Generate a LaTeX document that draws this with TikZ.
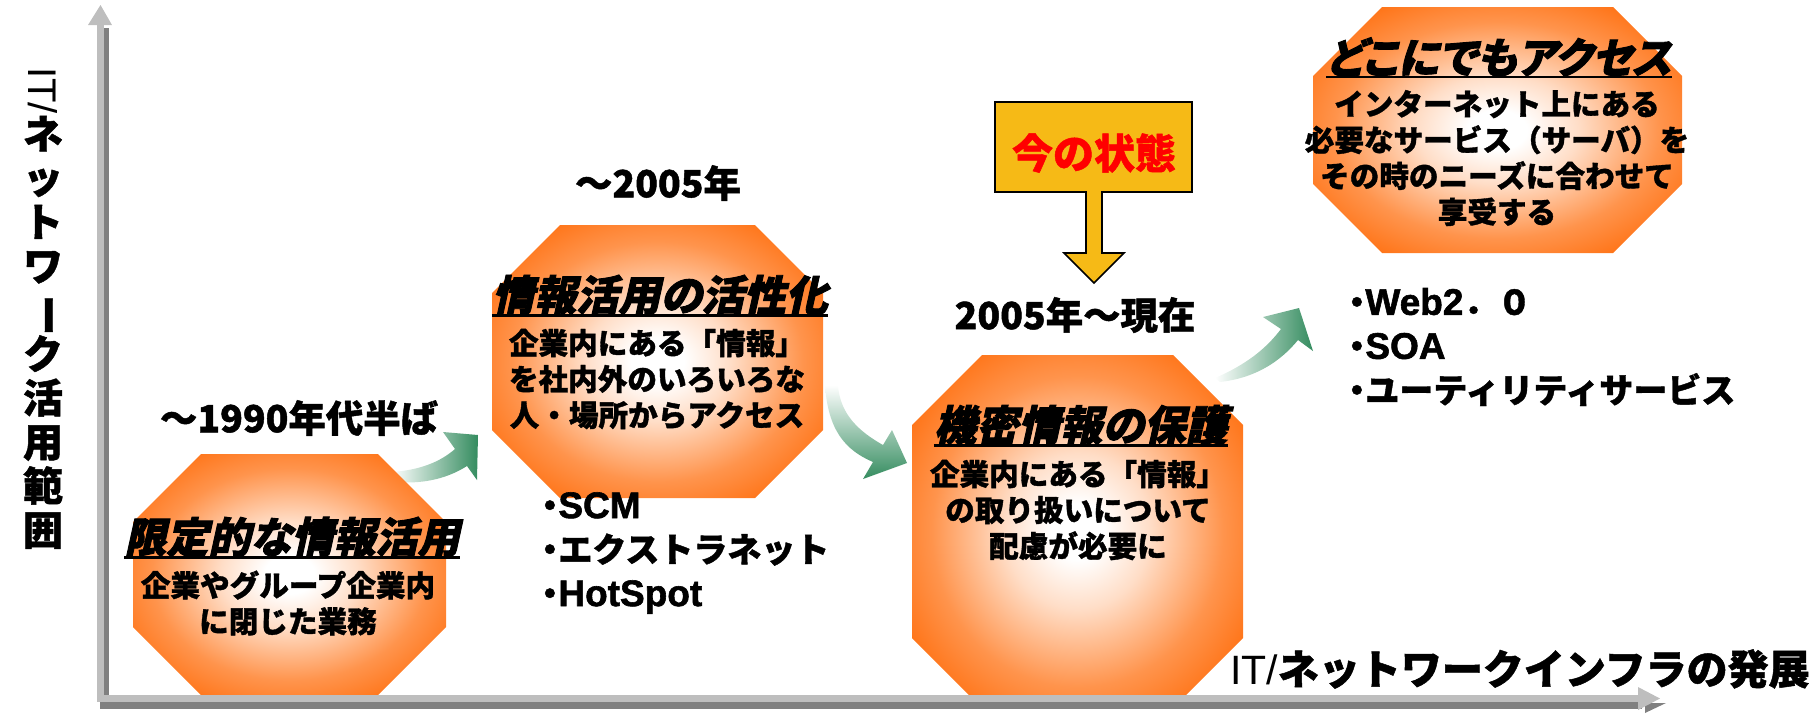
\documentclass[tikz,border=0pt]{standalone}
\usepackage{fontspec}
\setmainfont{Noto Sans CJK JP}
\newfontfamily\jp{Noto Sans CJK JP}[FakeBold=1.2]
\newfontfamily\jpt{Noto Sans CJK JP}[FakeSlant=0.22,FakeBold=2.2,RawFeature=+palt]
\newfontfamily\lat{Liberation Sans}
\newfontfamily\latb{Liberation Sans Bold}[FakeBold=1.6]
\newcommand\bu{\makebox[0.5em][c]{・}}
\newcommand\lt[1]{{\latb\fontsize{18.5}{22}\selectfont #1}}
\definecolor{octor}{RGB}{255,102,0}
\colorlet{octa}{octor!22!white}
\colorlet{octb}{octor!70!white}
\definecolor{agreen}{RGB}{52,140,95}
\definecolor{callfill}{RGB}{246,186,22}
\definecolor{axlight}{RGB}{190,190,190}
\definecolor{axdark}{RGB}{128,128,128}
\pgfdeclareradialshading{octshade}{\pgfpoint{0bp}{0bp}}{color(0bp)=(white); color(4bp)=(white); color(11bp)=(octa); color(22bp)=(octb); color(33bp)=(octor); color(72bp)=(octor)}
\tikzset{
  octfill/.style={shading=octshade, draw=none},
  ttl/.style={font=\jpt\bfseries\fontsize{21}{24}\selectfont, inner sep=0pt},
  bod/.style={font=\jp\bfseries\fontsize{14.8}{18}\selectfont, align=center, inner sep=0pt},
  lab/.style={font=\jp\bfseries\fontsize{18.7}{20}\selectfont, inner sep=0pt},
  lst/.style={font=\jp\bfseries\fontsize{17}{22}\selectfont, align=left, inner sep=0pt, anchor=west},
  uline/.style={line width=1.3pt, black},
  garrowh/.style={draw=none, left color=white, right color=agreen},
  garrowv/.style={draw=none, top color=white, bottom color=agreen},
  callout/.style={fill=callfill, draw=black, line width=0.8pt},
  axl/.style={fill=axlight, draw=none},
  axd/.style={fill=axdark, draw=none},
}
\newcommand\octo[5]{%
  \path[octfill] (#1+#5,#2) -- (#3-#5,#2) -- (#3,#2+#5) -- (#3,#4-#5) -- (#3-#5,#4) -- (#1+#5,#4) -- (#1,#4-#5) -- (#1,#2+#5) -- cycle;}
\begin{document}
\begin{tikzpicture}[x=0.5pt,y=-0.5pt]
\useasboundingbox (0,0) rectangle (1816,714);
% axis labels
\node[font=\jp\bfseries\fontsize{20}{22}\selectfont, align=center, inner sep=0pt] (ylab) at (43,308)
  {\rotatebox[origin=c]{-90}{\lat\mdseries IT/}\\ネ\\ッ\\ト\\ワ\\\rotatebox[origin=c]{-90}{ー}\\ク\\活\\用\\範\\囲};
\node[font=\jp\bfseries\fontsize{20.5}{22}\selectfont, inner sep=0pt, anchor=east] (xlab) at (1810,669)
  {{\lat\mdseries IT/}ネットワークインフラの発展};
% green arrows
\path[garrowh] (392,472) .. controls (420,470) and (440,462) .. (455,449) -- (443,432) -- (478,435) -- (477,480) -- (467,466) .. controls (445,480) and (420,484) .. (395,482) -- cycle;
\path[garrowv] (825,385) .. controls (828,430) and (845,450) .. (873,462) -- (863,479) -- (907,463) -- (892,430) -- (883,445) .. controls (860,432) and (840,415) .. (838,385) -- cycle;
\path[garrowh] (1215,378) .. controls (1245,365) and (1265,350) .. (1281,329) -- (1263,317) -- (1299,308) -- (1313,351) -- (1298,340) .. controls (1280,362) and (1255,378) .. (1220,382) -- cycle;
% octagons
\octo{133}{454}{446}{695}{68}
\octo{492}{225}{823}{498}{68}
\octo{912}{355}{1243}{708}{70}
\octo{1313}{7}{1682}{253}{69}
% axes
\path[axd] (104,28) rectangle (109,708);
\path[axl] (97,24) rectangle (104,702);
\path[axl] (88,25) -- (112,25) -- (100.5,5) -- cycle;
\path[axd] (100,702) rectangle (1642,709);
\path[axl] (97,695) rectangle (1642,702);
\path[axd] (1645,703) -- (1666,703) -- (1645,713) -- cycle;
\path[axl] (1638,687) -- (1660,698.5) -- (1638,710) -- cycle;
% titles
\node[ttl] (t1) at (292,537) {限定的な情報活用};
\node[ttl] (t2) at (660,295) {情報活用の活性化};
\node[ttl] (t3) at (1081,425) {機密情報の保護};
\node[ttl] (t4) at (1499,57) {どこにでもアクセス};
\foreach \t in {t1,t2,t3,t4}{\draw[uline] (\t.south west) -- (\t.south east);}
% bodies
\node[bod] (b1) at (288,603) {企業やグループ企業内\\に閉じた業務};
\node[bod] (b2) at (657,379) {企業内にある「情報」\\を社内外のいろいろな\\人・場所からアクセス};
\node[bod] (b3) at (1078,510) {企業内にある「情報」\\の取り扱いについて\\配慮が必要に};
\node[bod] (b4) at (1497,158) {インターネット上にある\\必要なサービス（サーバ）を\\その時のニーズに合わせて\\享受する};
% period labels
\node[lab] (p1) at (299,418) {～1990年代半ば};
\node[lab] (p2) at (658,183) {～2005年};
\node[lab] (p3) at (1075,315) {2005年～現在};
% lists
\node[lst] (l1) at (541,553) {\bu\lt{SCM}\\\bu エクストラネット\\\bu\lt{HotSpot}};
\node[lst] (l2) at (1348,347) {\bu\lt{Web2}．０\\\bu\lt{SOA}\\\bu ユーティリティサービス};
% callout
\path[callout] (995,102) -- (1192,102) -- (1192,192) -- (1102,192) -- (1102,253) -- (1124,253) -- (1094,283) -- (1064,253) -- (1086,253) -- (1086,192) -- (995,192) -- cycle;
\node[font=\jp\bfseries\fontsize{20.5}{22}\selectfont, text=red, inner sep=0pt] (now) at (1094,153) {今の状態};
\end{tikzpicture}
\end{document}
